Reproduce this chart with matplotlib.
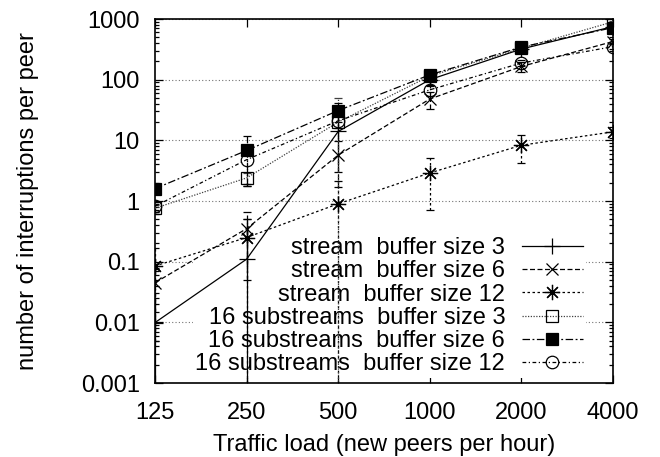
import numpy as np
import matplotlib
matplotlib.use("Agg")
import matplotlib.pyplot as plt
from matplotlib.lines import Line2D
from matplotlib.ticker import FixedLocator, LogLocator, NullFormatter, NullLocator

plt.rcParams["font.family"] = ["Liberation Sans", "DejaVu Sans"]

# Traffic load (new peers per hour)
loads = [125, 250, 500, 1000, 2000, 4000]
load_labels = ["125", "250", "500", "1000", "2000", "4000"]

# mean number of interruptions per peer and error bar half-widths
stream_b3 = [0.0099, 0.11, 14, 100, 320, 750]
stream_b3_err = [0.015, 0.4, 11, 20, 40, 50]
stream_b6 = [0.045, 0.35, 5.7, 48, 165, 425]
stream_b6_err = [0.03, 0.3, 4, 15, 30, 40]
stream_b12 = [0.085, 0.25, 0.9, 2.9, 8.3, 13.8]
stream_b12_err = [0.08, 0.25, 1.2, 2.2, 4, 3]
sub_b3 = [0.76, 2.4, 20, 115, 330, 900]
sub_b3_err = [0.1, 0.5, 30, 10, 20, 40]
sub_b6 = [1.6, 6.8, 31, 120, 345, 720]
sub_b6_err = [0.3, 5, 11, 15, 30, 50]
sub_b12 = [0.82, 4.8, 21, 68, 188, 350]
sub_b12_err = [0.15, 3, 5, 15, 20, 30]

y_ticks = [0.001, 0.01, 0.1, 1, 10, 100, 1000]
y_labels = ["0.001", "0.01", "0.1", "1", "10", "100", "1000"]

series = [
    ("stream  buffer size 3", stream_b3, stream_b3_err, "+", "k", "-", 11, "k"),
    ("stream  buffer size 6", stream_b6, stream_b6_err, "x", "k", (0, (4, 2)), 9, "k"),
    ("stream  buffer size 12", stream_b12, stream_b12_err, (8, 2, 0), "k", (0, (2, 2)), 11, "k"),
    ("16 substreams  buffer size 3", sub_b3, sub_b3_err, "s", "none", (0, (1, 1.2)), 8.5, "0.25"),
    ("16 substreams  buffer size 6", sub_b6, sub_b6_err, "s", "k", (0, (6, 2, 1.5, 2)), 9, "k"),
    ("16 substreams  buffer size 12", sub_b12, sub_b12_err, "o", "none", (0, (3, 2, 1, 2)), 9, "k"),
]

fig = plt.figure(figsize=(6.6, 4.57), dpi=100)
ax = fig.add_axes([155 / 660, 74 / 457, 458 / 660, 364 / 457])

handles = []
for label, vals, err, marker, face, ls, ms, color in series:
    eb = ax.errorbar(loads, vals, yerr=err, color=color, lw=0.9, ls=ls,
                     marker=marker, ms=ms, mfc=face, mec="k", mew=0.9,
                     elinewidth=0.9, capsize=3, capthick=0.9, zorder=3)
    for col in eb[2]:
        col.set_linestyle(ls)
    handles.append(Line2D([], [], color=color, lw=0.9, ls=ls, marker=marker,
                          ms=ms, mfc=face, mec="k", mew=0.9, label=label))

ax.set_xscale("log", base=2)
ax.set_yscale("log")
ax.set_xlim(125, 4000)
ax.set_ylim(0.001, 1000)

ax.xaxis.set_major_locator(FixedLocator(loads))
ax.set_xticklabels(load_labels)
ax.xaxis.set_minor_locator(NullLocator())
ax.yaxis.set_major_locator(FixedLocator(y_ticks))
ax.set_yticklabels(y_labels)
ax.yaxis.set_minor_locator(LogLocator(base=10, subs=np.arange(2, 10), numticks=20))
ax.yaxis.set_minor_formatter(NullFormatter())

ax.tick_params(which="both", direction="in", top=True, right=True, labelsize=17, width=0.9)
ax.tick_params(which="major", length=6)
ax.tick_params(which="minor", length=3)
ax.tick_params(axis="y", pad=11)
ax.tick_params(axis="x", pad=14)

ax.set_axisbelow(True)
ax.yaxis.grid(True, which="major", color="0.45", ls=(0, (1, 2)), lw=0.8)
for sp in ax.spines.values():
    sp.set_linewidth(1.2)

ax.set_xlabel("Traffic load (new peers per hour)", fontsize=17, labelpad=7)
ax.set_ylabel("number of interruptions per peer", fontsize=17, labelpad=30)

leg = ax.legend(handles=handles, loc="lower right", bbox_to_anchor=(0.94, 0.015),
                markerfirst=False, fontsize=17, frameon=True, facecolor="white",
                edgecolor="none", framealpha=1, fancybox=False, borderpad=0.1,
                borderaxespad=0, handlelength=2.6, handletextpad=0.7,
                labelspacing=0.05)
leg.set_zorder(1.5)

fig.savefig("out.png", dpi=100)
